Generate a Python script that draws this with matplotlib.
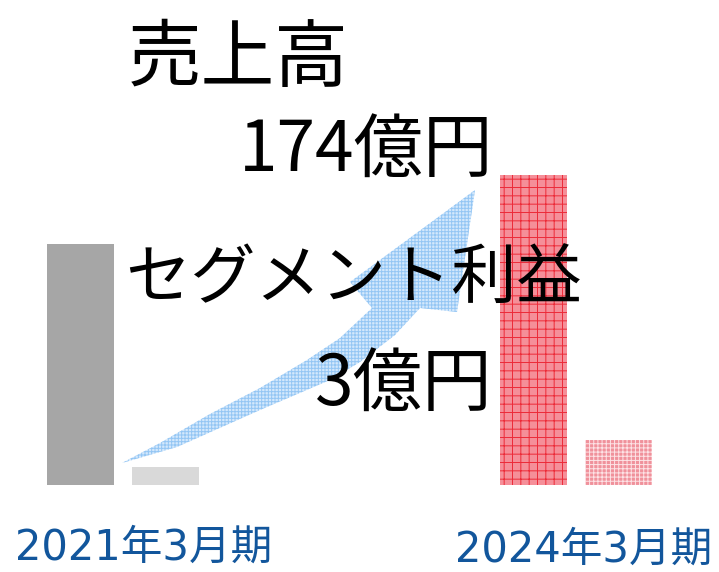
import matplotlib
matplotlib.use('Agg')
import matplotlib.pyplot as plt
import numpy as np
from matplotlib.patches import Polygon

# ---- data ----
periods = ['2021年3月期', '2024年3月期']
sales = [135, 174]          # 売上高 (億円)
profit = [1.2, 3]           # セグメント利益 (億円)
title_sales = '売上高'
value_sales = '174億円'
title_profit = 'セグメント利益'
value_profit = '3億円'

W, H = 719, 572
plt.rcParams['hatch.linewidth'] = 0.7
fig = plt.figure(figsize=(W / 100, H / 100), dpi=100)
ax = fig.add_axes([0, 0, 1, 1])
ax2 = ax.twinx()

x = np.arange(len(periods))
off, w = 0.093, 0.148

ax.bar(x[0] - off, sales[0], w, color='#a6a6a6', linewidth=0)
ax.bar(x[1] - off, sales[1], w, facecolor='#f58f99', hatch='++',
       edgecolor='#ec2a38', linewidth=0)
ax2.bar(x[0] + off, profit[0], w, color='#d9d9d9', linewidth=0)
ax2.bar(x[1] + off, profit[1], w, facecolor='#f0919b', hatch='++++',
        edgecolor='#fde3e6', linewidth=0)

base = 485  # baseline pixel from top
ax.set_xlim(-0.2715, 1.3157)
ppu1 = 310 / sales[1]
ax.set_ylim(-(H - base) / ppu1, base / ppu1)
ppu2 = 45 / profit[1]
ax2.set_ylim(-(H - base) / ppu2, base / ppu2)
ax.axis('off')
ax2.axis('off')

# decorative curved arrow (figure pixel coords)
pts = [(122, 463), (160, 443), (210, 414), (260, 388), (307, 360), (340, 338),
       (372, 308), (350, 282), (475, 190), (457, 312), (420, 308), (395, 335),
       (360, 362), (330, 380), (260, 410), (177, 447), (122, 463)]
poly = Polygon([(px / W, 1 - py / H) for px, py in pts], closed=True,
               transform=fig.transFigure, facecolor='#d3e8fc', hatch='+++++',
               edgecolor='#94c6f4', linewidth=0, zorder=1)
ax2.add_patch(poly)

jp = ['Noto Sans CJK JP', 'DejaVu Sans']
def ftext(px, py, s, size, ha='left', color='black', family=jp):
    fig.text(px / W, 1 - py / H, s, fontsize=size, ha=ha, va='center',
             color=color, family=family, zorder=5)

ftext(128, 60, title_sales, 53)
ftext(493, 151, value_sales, 50, ha='right')
ftext(125, 281, title_profit, 47)
ftext(493, 385, value_profit, 50, ha='right')

lab = ['DejaVu Sans', 'Noto Sans CJK JP']
ftext(144, 548, periods[0], 30, ha='center', color='#12569c', family=lab)
ftext(584, 550, periods[1], 30, ha='center', color='#12569c', family=lab)

fig.savefig('out.png', dpi=100)
